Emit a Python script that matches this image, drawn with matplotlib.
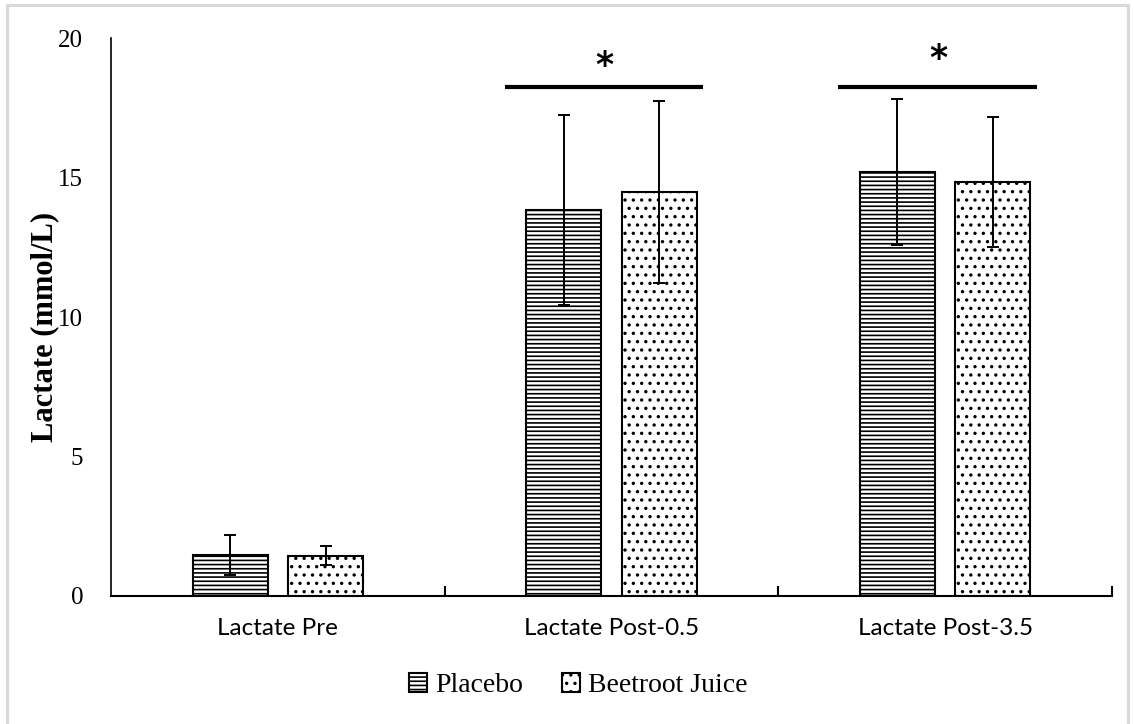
import matplotlib.pyplot as plt
import numpy as np

# Lattato medio e deviazione standard per condizione
momenti = ["Lactate Pre", "Lactate Post-0.5", "Lactate Post-3.5"]
placebo = [1.47, 13.83, 15.19]
placebo_sd = [0.72, 3.40, 2.62]
barbabietola = [1.45, 14.49, 14.83]
barbabietola_sd = [0.35, 3.26, 2.33]
significativi = [1, 2]  # momenti con differenza significativa
livello_sig = 18.25
quota_asterisco = [19.0, 19.25]

plt.rcParams['hatch.linewidth'] = 1.2

fig = plt.figure(figsize=(11.34, 7.24), dpi=100)
ax = fig.add_axes([0.0979, 0.1768, 0.8827, 0.7707])

x = np.arange(len(momenti))
larghezza = 0.225
scarto = 0.143

ax.bar(x - scarto, placebo, larghezza, color='white', edgecolor='black',
       linewidth=1.5, hatch='----', label='Placebo', zorder=2)
ax.bar(x + scarto, barbabietola, larghezza, color='white', edgecolor='black',
       linewidth=1.5, hatch='..', label='Beetroot Juice', zorder=2)
ax.errorbar(x - scarto, placebo, yerr=placebo_sd, fmt='none', ecolor='black',
            elinewidth=1.4, capsize=4.5, capthick=1.4, zorder=3)
ax.errorbar(x + scarto, barbabietola, yerr=barbabietola_sd, fmt='none', ecolor='black',
            elinewidth=1.4, capsize=4.5, capthick=1.4, zorder=3)

# Linee e asterischi di significativita
for i, quota in zip(significativi, quota_asterisco):
    ax.plot([i - 0.32, i + 0.275], [livello_sig, livello_sig], color='black',
            linewidth=3, solid_capstyle='butt')
    ax.text(i - 0.02, quota, '*', ha='center', va='center',
            fontsize=25, fontweight='bold', family='DejaVu Sans')

ax.set_xlim(-0.5, 2.5)
ax.set_ylim(0, 20)
ax.set_yticks([0, 5, 10, 15, 20])
ax.set_yticklabels(['0', '5', '10', '15', '20'], family='Liberation Serif', fontsize=18)
ax.tick_params(axis='y', length=0, pad=20)

ax.set_xticks([0.5, 1.5, 2.5])
ax.set_xticklabels([])
ax.set_xticks(x, minor=True)
ax.set_xticklabels(momenti, minor=True, family='Lato', fontsize=17.5)
ax.tick_params(axis='x', which='major', direction='in', length=7, width=1.5)
ax.tick_params(axis='x', which='minor', length=0, pad=16)

ax.spines['top'].set_visible(False)
ax.spines['right'].set_visible(False)
ax.spines['left'].set_linewidth(1.2)
ax.spines['bottom'].set_linewidth(1.5)

ax.set_ylabel('Lactate (mmol/L)', family='Liberation Serif', fontsize=22,
              fontweight='bold')
ax.yaxis.set_label_coords(-0.052, 0.482)

fig.legend(loc='center', bbox_to_anchor=(0.51, 0.053), ncol=2, frameon=False,
           prop={'family': 'Liberation Serif', 'size': 20}, handlelength=0.65,
           handleheight=0.65, handletextpad=0.3, columnspacing=1.4)

# Cornice grigia attorno al grafico
fig.add_artist(plt.Line2D([0.0066, 0.0066, 0.9945, 0.9945], [0, 0.993, 0.993, 0],
                          transform=fig.transFigure, color='#d9d9d9', linewidth=2.2))

fig.savefig('out.png', dpi=100)
